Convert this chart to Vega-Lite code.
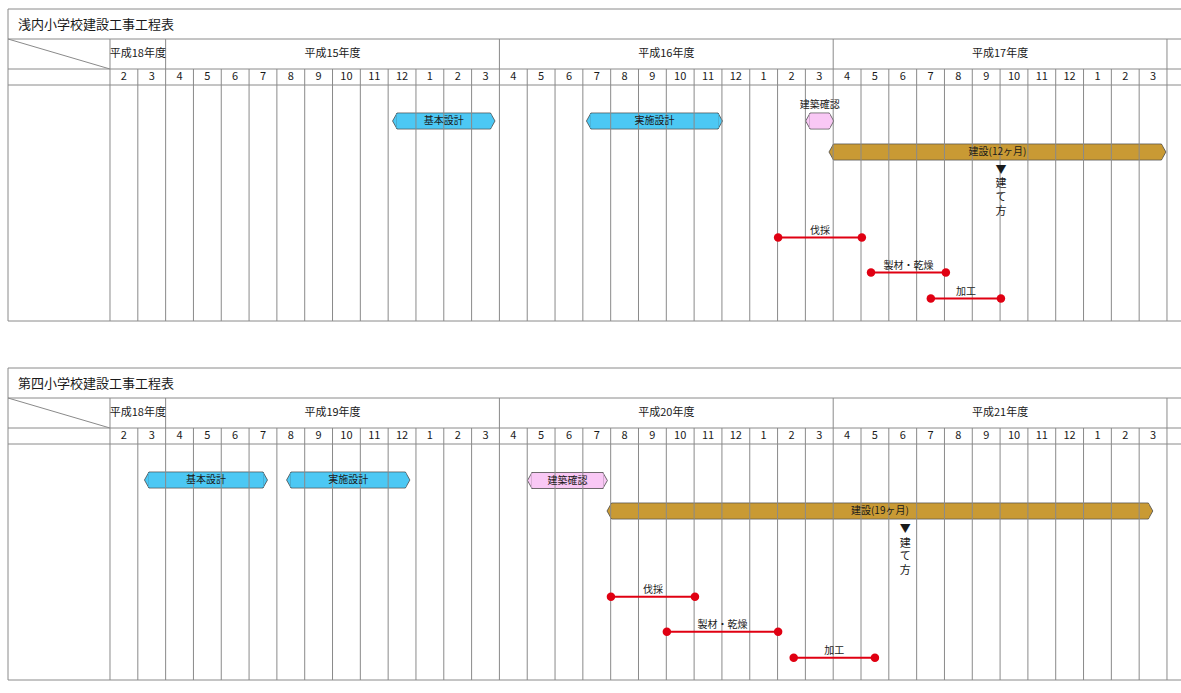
{
  "$schema": "https://vega.github.io/schema/vega-lite/v6.json",
  "padding": {"left": 7, "top": 8, "right": 0, "bottom": 0},
  "background": "white",
  "config": {
    "view": {"stroke": null},
    "font": "Noto Sans CJK JP",
    "axis": {"disable": true},
    "text": {"color": "#1a1a1a", "font": "Noto Sans CJK JP"}
  },
  "data": {"values": [
    {"chart": "1", "kind": "title", "label": "浅内小学校建設工事工程表"},
    {"chart": "2", "kind": "title", "label": "第四小学校建設工事工程表"},
    {"chart": "1", "kind": "year", "label": "平成18年度", "start": 0, "end": 2},
    {"chart": "1", "kind": "year", "label": "平成15年度", "start": 2, "end": 14},
    {"chart": "1", "kind": "year", "label": "平成16年度", "start": 14, "end": 26},
    {"chart": "1", "kind": "year", "label": "平成17年度", "start": 26, "end": 38},
    {"chart": "2", "kind": "year", "label": "平成18年度", "start": 0, "end": 2},
    {"chart": "2", "kind": "year", "label": "平成19年度", "start": 2, "end": 14},
    {"chart": "2", "kind": "year", "label": "平成20年度", "start": 14, "end": 26},
    {"chart": "2", "kind": "year", "label": "平成21年度", "start": 26, "end": 38},
    {"chart": "1", "kind": "month", "i": 0, "m": "2"},
    {"chart": "1", "kind": "month", "i": 1, "m": "3"},
    {"chart": "1", "kind": "month", "i": 2, "m": "4"},
    {"chart": "1", "kind": "month", "i": 3, "m": "5"},
    {"chart": "1", "kind": "month", "i": 4, "m": "6"},
    {"chart": "1", "kind": "month", "i": 5, "m": "7"},
    {"chart": "1", "kind": "month", "i": 6, "m": "8"},
    {"chart": "1", "kind": "month", "i": 7, "m": "9"},
    {"chart": "1", "kind": "month", "i": 8, "m": "10"},
    {"chart": "1", "kind": "month", "i": 9, "m": "11"},
    {"chart": "1", "kind": "month", "i": 10, "m": "12"},
    {"chart": "1", "kind": "month", "i": 11, "m": "1"},
    {"chart": "1", "kind": "month", "i": 12, "m": "2"},
    {"chart": "1", "kind": "month", "i": 13, "m": "3"},
    {"chart": "1", "kind": "month", "i": 14, "m": "4"},
    {"chart": "1", "kind": "month", "i": 15, "m": "5"},
    {"chart": "1", "kind": "month", "i": 16, "m": "6"},
    {"chart": "1", "kind": "month", "i": 17, "m": "7"},
    {"chart": "1", "kind": "month", "i": 18, "m": "8"},
    {"chart": "1", "kind": "month", "i": 19, "m": "9"},
    {"chart": "1", "kind": "month", "i": 20, "m": "10"},
    {"chart": "1", "kind": "month", "i": 21, "m": "11"},
    {"chart": "1", "kind": "month", "i": 22, "m": "12"},
    {"chart": "1", "kind": "month", "i": 23, "m": "1"},
    {"chart": "1", "kind": "month", "i": 24, "m": "2"},
    {"chart": "1", "kind": "month", "i": 25, "m": "3"},
    {"chart": "1", "kind": "month", "i": 26, "m": "4"},
    {"chart": "1", "kind": "month", "i": 27, "m": "5"},
    {"chart": "1", "kind": "month", "i": 28, "m": "6"},
    {"chart": "1", "kind": "month", "i": 29, "m": "7"},
    {"chart": "1", "kind": "month", "i": 30, "m": "8"},
    {"chart": "1", "kind": "month", "i": 31, "m": "9"},
    {"chart": "1", "kind": "month", "i": 32, "m": "10"},
    {"chart": "1", "kind": "month", "i": 33, "m": "11"},
    {"chart": "1", "kind": "month", "i": 34, "m": "12"},
    {"chart": "1", "kind": "month", "i": 35, "m": "1"},
    {"chart": "1", "kind": "month", "i": 36, "m": "2"},
    {"chart": "1", "kind": "month", "i": 37, "m": "3"},
    {"chart": "2", "kind": "month", "i": 0, "m": "2"},
    {"chart": "2", "kind": "month", "i": 1, "m": "3"},
    {"chart": "2", "kind": "month", "i": 2, "m": "4"},
    {"chart": "2", "kind": "month", "i": 3, "m": "5"},
    {"chart": "2", "kind": "month", "i": 4, "m": "6"},
    {"chart": "2", "kind": "month", "i": 5, "m": "7"},
    {"chart": "2", "kind": "month", "i": 6, "m": "8"},
    {"chart": "2", "kind": "month", "i": 7, "m": "9"},
    {"chart": "2", "kind": "month", "i": 8, "m": "10"},
    {"chart": "2", "kind": "month", "i": 9, "m": "11"},
    {"chart": "2", "kind": "month", "i": 10, "m": "12"},
    {"chart": "2", "kind": "month", "i": 11, "m": "1"},
    {"chart": "2", "kind": "month", "i": 12, "m": "2"},
    {"chart": "2", "kind": "month", "i": 13, "m": "3"},
    {"chart": "2", "kind": "month", "i": 14, "m": "4"},
    {"chart": "2", "kind": "month", "i": 15, "m": "5"},
    {"chart": "2", "kind": "month", "i": 16, "m": "6"},
    {"chart": "2", "kind": "month", "i": 17, "m": "7"},
    {"chart": "2", "kind": "month", "i": 18, "m": "8"},
    {"chart": "2", "kind": "month", "i": 19, "m": "9"},
    {"chart": "2", "kind": "month", "i": 20, "m": "10"},
    {"chart": "2", "kind": "month", "i": 21, "m": "11"},
    {"chart": "2", "kind": "month", "i": 22, "m": "12"},
    {"chart": "2", "kind": "month", "i": 23, "m": "1"},
    {"chart": "2", "kind": "month", "i": 24, "m": "2"},
    {"chart": "2", "kind": "month", "i": 25, "m": "3"},
    {"chart": "2", "kind": "month", "i": 26, "m": "4"},
    {"chart": "2", "kind": "month", "i": 27, "m": "5"},
    {"chart": "2", "kind": "month", "i": 28, "m": "6"},
    {"chart": "2", "kind": "month", "i": 29, "m": "7"},
    {"chart": "2", "kind": "month", "i": 30, "m": "8"},
    {"chart": "2", "kind": "month", "i": 31, "m": "9"},
    {"chart": "2", "kind": "month", "i": 32, "m": "10"},
    {"chart": "2", "kind": "month", "i": 33, "m": "11"},
    {"chart": "2", "kind": "month", "i": 34, "m": "12"},
    {"chart": "2", "kind": "month", "i": 35, "m": "1"},
    {"chart": "2", "kind": "month", "i": 36, "m": "2"},
    {"chart": "2", "kind": "month", "i": 37, "m": "3"},
    {"chart": "1", "kind": "bar", "label": "基本設計", "type": "設計", "start": 10.32, "end": 13.68, "row": 112},
    {"chart": "1", "kind": "bar", "label": "実施設計", "type": "設計", "start": 17.29, "end": 21.86, "row": 112},
    {"chart": "1", "kind": "bar", "label": "建築確認", "type": "確認", "start": 25.17, "end": 25.86, "row": 112},
    {"chart": "1", "kind": "bar", "label": "建設(12ヶ月)", "type": "建設", "start": 26.01, "end": 37.8, "row": 143},
    {"chart": "2", "kind": "bar", "label": "基本設計", "type": "設計", "start": 1.4, "end": 5.5, "row": 112},
    {"chart": "2", "kind": "bar", "label": "実施設計", "type": "設計", "start": 6.51, "end": 10.62, "row": 112},
    {"chart": "2", "kind": "bar", "label": "建築確認", "type": "確認", "start": 15.17, "end": 17.72, "row": 112.5},
    {"chart": "2", "kind": "bar", "label": "建設(19ヶ月)", "type": "建設", "start": 18.03, "end": 37.33, "row": 143},
    {"chart": "1", "kind": "event", "label": "伐採", "start": 24.02, "end": 27.03, "row": 228.5},
    {"chart": "1", "kind": "event", "label": "製材・乾燥", "start": 27.36, "end": 30.05, "row": 263.5},
    {"chart": "1", "kind": "event", "label": "加工", "start": 29.51, "end": 32.03, "row": 289.5},
    {"chart": "2", "kind": "event", "label": "伐採", "start": 18.01, "end": 21.03, "row": 228.7},
    {"chart": "2", "kind": "event", "label": "製材・乾燥", "start": 20.02, "end": 24.02, "row": 263.7},
    {"chart": "2", "kind": "event", "label": "加工", "start": 24.58, "end": 27.5, "row": 289.7},
    {"chart": "1", "kind": "marker", "label": "▼\n建\nて\n方", "at": 32.03, "row": 161.5},
    {"chart": "2", "kind": "marker", "label": "▼\n建\nて\n方", "at": 28.59, "row": 162}
  ]},
  "facet": {"row": {"field": "chart", "type": "nominal", "header": null, "sort": ["1", "2"]}},
  "spacing": 45,
  "spec": {
    "width": 1174,
    "height": 312,
    "layer": [
      {
        "transform": [{"filter": "datum.kind == 'bar'"}],
        "mark": {"type": "point", "shape": "M0,-1L-0.5625,0L0,1Z", "size": 256, "filled": true, "opacity": 1, "stroke": "#4a4a4a", "strokeWidth": 0.8},
        "encoding": {
          "x": {"field": "start", "type": "quantitative", "scale": {"domain": [-3.667, 38.54], "nice": false, "zero": false}, "axis": null},
          "y": {"field": "row", "type": "quantitative", "scale": {"domain": [0, 312], "reverse": true, "nice": false, "zero": false}, "axis": null},
          "fill": {"field": "type", "type": "nominal", "scale": {"domain": ["設計", "確認", "建設"], "range": ["#4cc8f4", "#f9c8f5", "#c99a34"]}, "legend": null}
        }
      },
      {
        "transform": [{"filter": "datum.kind == 'bar'"}],
        "mark": {"type": "point", "shape": "M0,-1L0.5625,0L0,1Z", "size": 256, "filled": true, "opacity": 1, "stroke": "#4a4a4a", "strokeWidth": 0.8},
        "encoding": {
          "x": {"field": "end", "type": "quantitative", "axis": null},
          "y": {"field": "row", "type": "quantitative", "axis": null},
          "fill": {"field": "type", "type": "nominal", "legend": null}
        }
      },
      {
        "transform": [{"filter": "datum.kind == 'bar'"}],
        "mark": {"type": "rect", "stroke": "#4a4a4a", "strokeWidth": 0.8, "yOffset": -8, "y2Offset": 8},
        "encoding": {
          "x": {"field": "start", "type": "quantitative", "axis": null},
          "x2": {"field": "end"},
          "y": {"field": "row", "type": "quantitative", "axis": null},
          "y2": {"field": "row"},
          "fill": {"field": "type", "type": "nominal", "legend": null}
        }
      },
      {
        "transform": [{"filter": "datum.kind == 'bar'"}],
        "mark": {"type": "rect", "strokeWidth": 0, "xOffset": -0.7, "x2Offset": 0.7, "yOffset": -7.3, "y2Offset": 7.3},
        "encoding": {
          "x": {"field": "start", "type": "quantitative", "axis": null},
          "x2": {"field": "end"},
          "y": {"field": "row", "type": "quantitative", "axis": null},
          "y2": {"field": "row"},
          "fill": {"field": "type", "type": "nominal", "legend": null}
        }
      },
      {
        "transform": [{"filter": "datum.kind == 'month'"}],
        "mark": {"type": "rule", "color": "#8a8a8a", "strokeWidth": 1},
        "encoding": {
          "x": {"field": "i", "type": "quantitative", "axis": null},
          "y": {"datum": 60},
          "y2": {"datum": 312}
        }
      },
      {
        "transform": [{"filter": "datum.kind == 'year'"}],
        "mark": {"type": "rule", "color": "#8a8a8a", "strokeWidth": 1},
        "encoding": {
          "x": {"field": "start", "type": "quantitative", "axis": null},
          "y": {"datum": 30},
          "y2": {"datum": 60}
        }
      },
      {
        "transform": [{"filter": "datum.kind == 'title'"}],
        "mark": {"type": "rule", "color": "#8a8a8a", "strokeWidth": 1},
        "encoding": {"x": {"datum": 38}, "y": {"datum": 30}, "y2": {"datum": 312}}
      },
      {
        "transform": [{"filter": "datum.kind == 'title'"}],
        "mark": {"type": "rule", "color": "#8a8a8a", "strokeWidth": 1},
        "encoding": {"x": {"datum": -3.667}, "y": {"datum": 0}, "y2": {"datum": 312}}
      },
      {
        "transform": [{"filter": "datum.kind == 'title'"}],
        "mark": {"type": "rule", "color": "#8a8a8a", "strokeWidth": 1},
        "encoding": {"x": {"datum": -3.667}, "x2": {"datum": 0}, "y": {"datum": 30}, "y2": {"datum": 60}}
      },
      {
        "transform": [{"filter": "datum.kind == 'title'"}],
        "mark": {"type": "rule", "color": "#8a8a8a", "strokeWidth": 1},
        "encoding": {"x": {"datum": -3.667}, "x2": {"datum": 38.54}, "y": {"datum": 0}}
      },
      {
        "transform": [{"filter": "datum.kind == 'title'"}],
        "mark": {"type": "rule", "color": "#8a8a8a", "strokeWidth": 1},
        "encoding": {"x": {"datum": -3.667}, "x2": {"datum": 38.54}, "y": {"datum": 30}}
      },
      {
        "transform": [{"filter": "datum.kind == 'title'"}],
        "mark": {"type": "rule", "color": "#8a8a8a", "strokeWidth": 1},
        "encoding": {"x": {"datum": -3.667}, "x2": {"datum": 38.54}, "y": {"datum": 60}}
      },
      {
        "transform": [{"filter": "datum.kind == 'title'"}],
        "mark": {"type": "rule", "color": "#8a8a8a", "strokeWidth": 1},
        "encoding": {"x": {"datum": -3.667}, "x2": {"datum": 38.54}, "y": {"datum": 76}}
      },
      {
        "transform": [{"filter": "datum.kind == 'title'"}],
        "mark": {"type": "rule", "color": "#8a8a8a", "strokeWidth": 1},
        "encoding": {"x": {"datum": -3.667}, "x2": {"datum": 38.54}, "y": {"datum": 312}}
      },
      {
        "transform": [{"filter": "datum.kind == 'bar' && datum.end - datum.start > 1"}, {"fold": ["start", "end"], "as": ["k", "v"]}],
        "mark": {"type": "text", "fontSize": 10, "baseline": "middle", "align": "center"},
        "encoding": {
          "x": {"field": "v", "type": "quantitative", "aggregate": "mean", "axis": null},
          "y": {"field": "row", "type": "quantitative", "axis": null},
          "text": {"field": "label", "type": "nominal"},
          "detail": {"field": "chart", "type": "nominal"}
        }
      },
      {
        "transform": [{"filter": "datum.kind == 'bar' && datum.end - datum.start <= 1"}, {"fold": ["start", "end"], "as": ["k", "v"]}],
        "mark": {"type": "text", "fontSize": 10, "baseline": "middle", "align": "center", "dy": -16},
        "encoding": {
          "x": {"field": "v", "type": "quantitative", "aggregate": "mean", "axis": null},
          "y": {"field": "row", "type": "quantitative", "axis": null},
          "text": {"field": "label", "type": "nominal"},
          "detail": {"field": "chart", "type": "nominal"}
        }
      },
      {
        "transform": [{"filter": "datum.kind == 'event'"}],
        "mark": {"type": "rule", "color": "#e00012", "strokeWidth": 2},
        "encoding": {
          "x": {"field": "start", "type": "quantitative", "axis": null},
          "x2": {"field": "end"},
          "y": {"field": "row", "type": "quantitative", "axis": null}
        }
      },
      {
        "transform": [{"filter": "datum.kind == 'event'"}, {"fold": ["start", "end"], "as": ["k", "v"]}],
        "mark": {"type": "point", "shape": "circle", "filled": true, "opacity": 1, "size": 72, "color": "#e00012"},
        "encoding": {
          "x": {"field": "v", "type": "quantitative", "axis": null},
          "y": {"field": "row", "type": "quantitative", "axis": null}
        }
      },
      {
        "transform": [{"filter": "datum.kind == 'event'"}, {"fold": ["start", "end"], "as": ["k", "v"]}],
        "mark": {"type": "text", "fontSize": 10, "baseline": "middle", "align": "center", "dy": -7},
        "encoding": {
          "x": {"field": "v", "type": "quantitative", "aggregate": "mean", "axis": null},
          "y": {"field": "row", "type": "quantitative", "axis": null},
          "text": {"field": "label", "type": "nominal"},
          "detail": {"field": "chart", "type": "nominal"}
        }
      },
      {
        "transform": [{"filter": "datum.kind == 'marker'"}],
        "mark": {"type": "text", "fontSize": 11, "baseline": "middle", "align": "center", "lineBreak": "\n", "lineHeight": 13.7, "dy": 0},
        "encoding": {
          "x": {"field": "at", "type": "quantitative", "axis": null},
          "y": {"field": "row", "type": "quantitative", "axis": null},
          "text": {"field": "label", "type": "nominal"}
        }
      },
      {
        "transform": [{"filter": "datum.kind == 'year'"}, {"fold": ["start", "end"], "as": ["k", "v"]}],
        "mark": {"type": "text", "fontSize": 11, "baseline": "middle", "align": "center"},
        "encoding": {
          "x": {"field": "v", "type": "quantitative", "aggregate": "mean", "axis": null},
          "y": {"datum": 45},
          "text": {"field": "label", "type": "nominal"},
          "detail": {"field": "chart", "type": "nominal"}
        }
      },
      {
        "transform": [{"filter": "datum.kind == 'month'"}],
        "mark": {"type": "text", "fontSize": 11, "baseline": "middle", "align": "center", "dx": 13.9},
        "encoding": {
          "x": {"field": "i", "type": "quantitative", "axis": null},
          "y": {"datum": 67.5},
          "text": {"field": "m", "type": "nominal"}
        }
      },
      {
        "transform": [{"filter": "datum.kind == 'title'"}],
        "mark": {"type": "text", "fontSize": 13, "baseline": "middle", "align": "left", "dx": 10},
        "encoding": {
          "x": {"datum": -3.667},
          "y": {"datum": 15.5},
          "text": {"field": "label", "type": "nominal"}
        }
      }
    ]
  }
}
